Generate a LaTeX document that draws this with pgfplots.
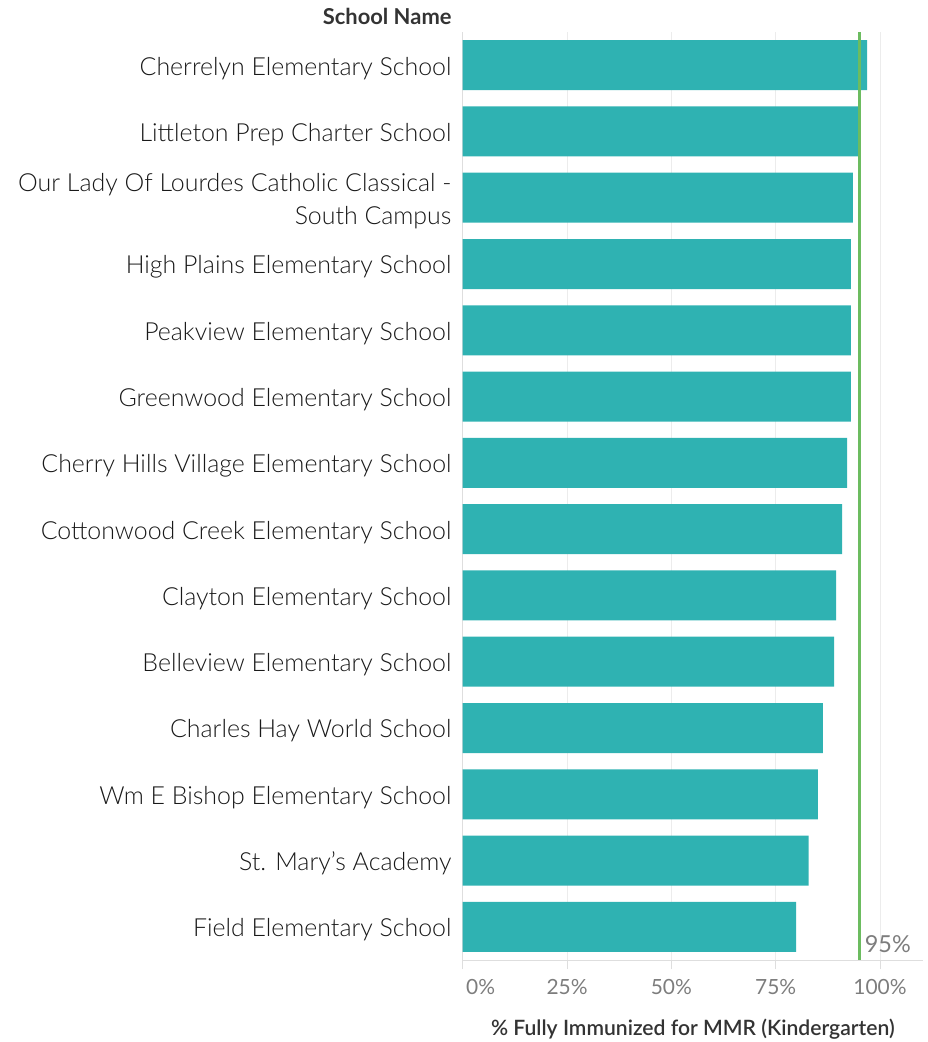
\documentclass[border=0pt]{standalone}
\usepackage{pgfplots}
\pgfplotsset{compat=1.18}
\usepackage{fontspec}
\setmainfont{Lato}
\newfontfamily\semib{Lato Semibold}
\newfontfamily\light{Lato Light}
\definecolor{barteal}{RGB}{47,178,178}
\definecolor{refgreen}{RGB}{108,188,96}
\definecolor{gridgray}{RGB}{236,236,236}
\definecolor{axisgray}{RGB}{222,222,222}
\definecolor{ticktext}{RGB}{125,125,125}
\definecolor{labeltext}{RGB}{51,51,51}
\definecolor{cattext}{RGB}{25,25,25}
\begin{document}
\begin{tikzpicture}
\useasboundingbox (-462.7bp,-82bp) rectangle (465.3bp,960bp);
\begin{axis}[
  at={(0,0)}, anchor=south west,
  scale only axis, width=460.3bp, height=928bp,
  xmin=0, xmax=110.3,
  ymin=-0.5, ymax=13.5, y dir=reverse,
  axis x line*=bottom, axis y line*=left,
  axis line style={draw=axisgray, line width=1bp},
  xmajorgrids, grid style={draw=gridgray, line width=1bp},
  xtick={0,25,50,75,100},
  xticklabels={\hspace*{36bp}0\%,25\%,50\%,75\%,100\%},
  tick align=outside, major tick length=9bp,
  xtick style={draw=axisgray, line width=1bp},
  xticklabel style={font=\fontsize{21}{25}\selectfont, text=ticktext, inner sep=0pt, yshift=-10bp},
  ytick={0,...,13},
  yticklabels={Cherrelyn Elementary School,
    Littleton Prep Charter School,
    Our Lady Of Lourdes Catholic Classical -\\South Campus,
    High Plains Elementary School,
    Peakview Elementary School,
    Greenwood Elementary School,
    Cherry Hills Village Elementary School,
    Cottonwood Creek Elementary School,
    Clayton Elementary School,
    Belleview Elementary School,
    Charles Hay World School,
    Wm E Bishop Elementary School,
    St. Mary’s Academy,
    Field Elementary School},
  ytick style={draw=none},
  yticklabel style={font=\light\fontsize{25}{33}\selectfont, text=cattext, align=right, inner sep=0pt, xshift=-2bp, yshift=-3bp},
  xlabel={\% Fully Immunized for MMR (Kindergarten)},
  xlabel style={at={(axis description cs:0.5,0)}, anchor=base, yshift=-75bp,
    font=\semib\fontsize{21.2}{25}\selectfont, text=labeltext},
]
\addplot[xbar, bar width=50bp, bar shift=0pt, fill=barteal, draw=none] coordinates {
  (96.9,0) (94.9,1) (93.5,2) (93.0,3) (93.0,4) (93.0,5) (92.1,6)
  (90.9,7) (89.5,8) (89.0,9) (86.3,10) (85.1,11) (82.9,12) (79.9,13)};
\addplot[sharp plot, refgreen, line width=3bp, forget plot] coordinates {(95,-0.5) (95,13.5)};
\end{axis}
\node[anchor=base east, inner sep=0pt, font=\bfseries\fontsize{22}{26}\selectfont, text=labeltext] at (-11bp,935bp) {School Name};
\node[anchor=base west, inner sep=0pt, font=\fontsize{23.5}{28}\selectfont, text=ticktext] at (402bp,8bp) {95\%};
\end{tikzpicture}
\end{document}
